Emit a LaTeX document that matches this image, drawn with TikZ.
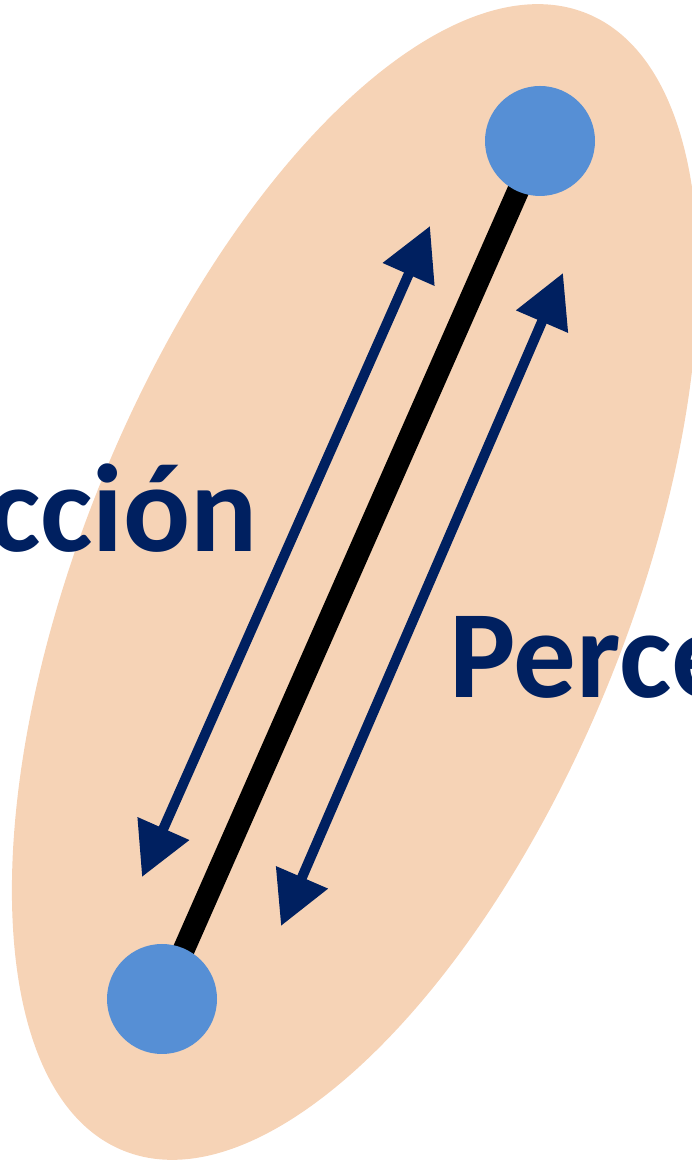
\documentclass[tikz,border=0pt]{standalone}
\usepackage{fontspec}
\setmainfont{Carlito}
\usetikzlibrary{arrows.meta}
\definecolor{peach}{HTML}{F6D3B6}
\definecolor{dotblue}{HTML}{568FD5}
\definecolor{navy}{HTML}{002060}
\begin{document}
\begin{tikzpicture}[x=1pt,y=1pt,
  dot/.style={circle,fill=dotblue,minimum size=110pt,inner sep=0pt},
  link/.style={line width=22pt,black},
  flow/.style={navy,line width=10pt,{Triangle[length=53pt,width=54pt]}-{Triangle[length=53pt,width=54pt]}},
  lbl/.style={text=navy,font=\fontsize{125}{150}\selectfont\bfseries,inner sep=0pt}]
\useasboundingbox (0,0) rectangle (691,1161);
\fill[peach,rotate around={67.8:(355,579)}] (355,579) ellipse [x radius=614, y radius=273];
\coordinate (topc) at (540,1020);
\coordinate (botc) at (162,162);
\draw[link] (topc) -- (botc);
\node[dot] (top) at (topc) {};
\node[dot] (bot) at (botc) {};
\coordinate (l1) at (430,935);
\coordinate (l2) at (142,284);
\coordinate (r1) at (563,888);
\coordinate (r2) at (281,235);
\draw[flow] (l2) -- (l1);
\draw[flow] (r2) -- (r1);
\node[lbl,anchor=base east] (accion) at (258,609) {cción};
\node[lbl,anchor=base west] (percep) at (449,463) {Perce};
\end{tikzpicture}
\end{document}
